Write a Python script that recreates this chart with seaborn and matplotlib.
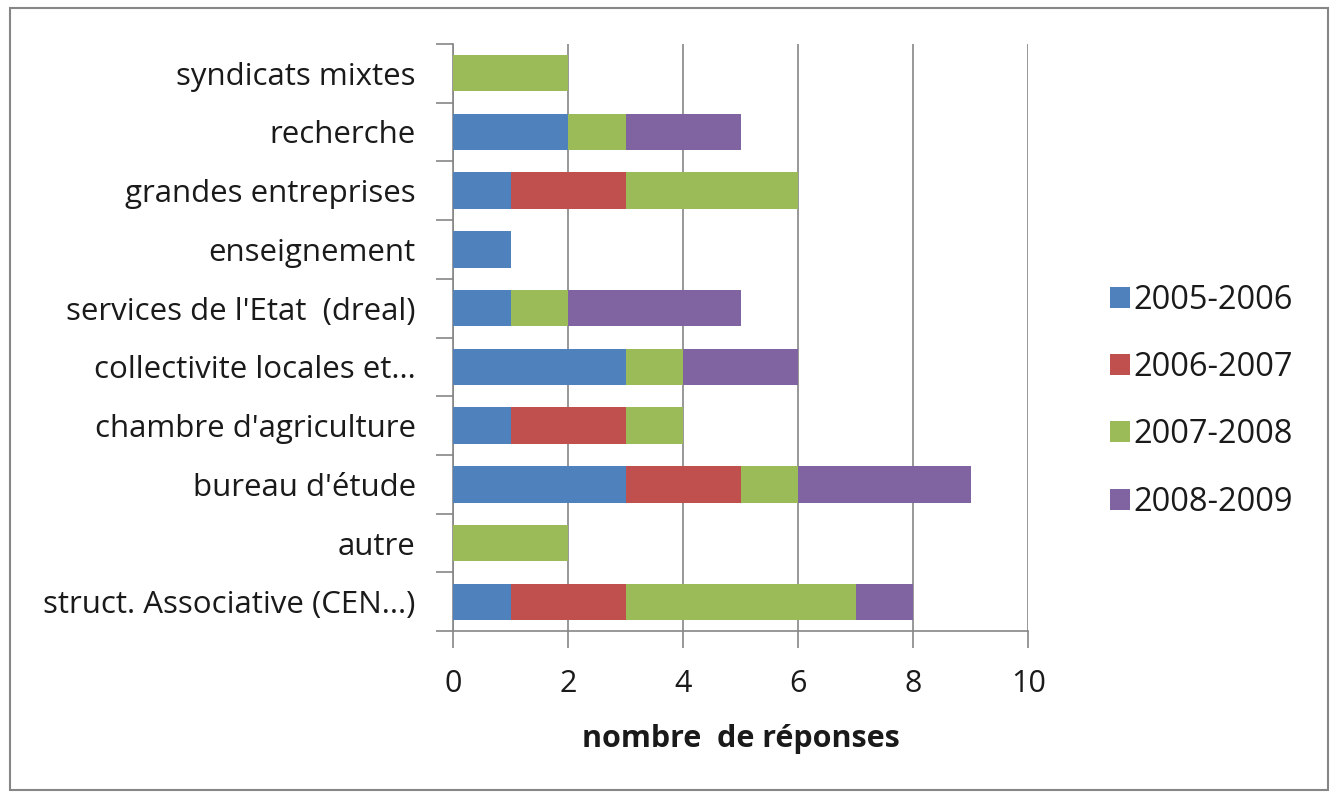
import pandas as pd
import seaborn as sns
import matplotlib.pyplot as plt
from matplotlib.patches import Rectangle, Patch
import numpy as np

# --- data ---
categories = ["syndicats mixtes", "recherche", "grandes entreprises", "enseignement",
              "services de l'Etat  (dreal)", "collectivite locales et...",
              "chambre d'agriculture", "bureau d'étude", "autre",
              "struct. Associative (CEN...)"]
periods = ["2005-2006", "2006-2007", "2007-2008", "2008-2009"]
v_2005 = [0, 2, 1, 1, 1, 3, 1, 3, 0, 1]
v_2006 = [0, 0, 2, 0, 0, 0, 2, 2, 0, 2]
v_2007 = [2, 1, 3, 0, 1, 1, 1, 1, 2, 4]
v_2008 = [0, 2, 0, 0, 3, 2, 0, 3, 0, 1]
colors = ["#4F81BD", "#C0504D", "#9BBB59", "#8064A2"]

df = pd.DataFrame({"cat": categories, periods[0]: v_2005, periods[1]: v_2006,
                   periods[2]: v_2007, periods[3]: v_2008})
cum = df[periods].cumsum(axis=1)

sns.set_style("white")
plt.rcParams['font.family'] = ['Open Sans', 'DejaVu Sans']
FS = 22.5

fig = plt.figure(figsize=(13.37, 7.96), dpi=100)
ax = fig.add_axes([0.339, 0.207, 0.430, 0.738])

# stacked bars drawn as overlaid cumulative totals, longest first
for p, c in reversed(list(zip(periods, colors))):
    sns.barplot(x=cum[p], y=df["cat"], order=categories, color=c, width=0.62,
                saturation=1, ax=ax, orient="h", zorder=3, linewidth=0)

ax.set_xlim(0, 10)
ax.set_ylim(len(categories) - 0.5, -0.5)
ax.set_xticks(np.arange(0, 11, 2))
ax.grid(axis="x", color="#868686", linewidth=1.2, zorder=0)
ax.set_axisbelow(True)
for s in ["top", "right"]:
    ax.spines[s].set_visible(False)
for s in ["left", "bottom"]:
    ax.spines[s].set_color("#868686")
    ax.spines[s].set_linewidth(1.2)

ax.set_yticks(np.arange(len(categories)))
ax.set_yticklabels(categories)
ax.set_yticks(np.arange(-0.5, len(categories), 1), minor=True)
ax.tick_params(axis="y", which="major", left=False, length=0, pad=27,
               labelsize=FS, labelcolor="#1a1a1a")
ax.tick_params(axis="y", which="minor", left=True, length=12, width=1.2,
               color="#868686", direction="out")
ax.tick_params(axis="x", bottom=True, length=12, width=1.2, color="#868686",
               direction="out", labelsize=22, pad=15, labelcolor="#1a1a1a")
ax.set_ylabel("")
ax.set_xlabel("nombre  de réponses", fontsize=22, fontweight="bold", labelpad=18,
              color="#1a1a1a")

handles = [Patch(facecolor=c, edgecolor="none") for c in colors]
fig.legend(handles, periods, loc="center left", bbox_to_anchor=(0.808, 0.496),
           frameon=False, fontsize=23.5, handlelength=0.62, handleheight=0.62,
           handletextpad=0.12, labelspacing=1.05, labelcolor="#1a1a1a")

# outer chart border
fig.add_artist(Rectangle((10 / 1337, 1 - 790 / 796), 1318 / 1337, 782 / 796,
                         transform=fig.transFigure, fill=False,
                         edgecolor="#868686", linewidth=1.5))

fig.savefig("out.png", dpi=100)
plt.close(fig)
